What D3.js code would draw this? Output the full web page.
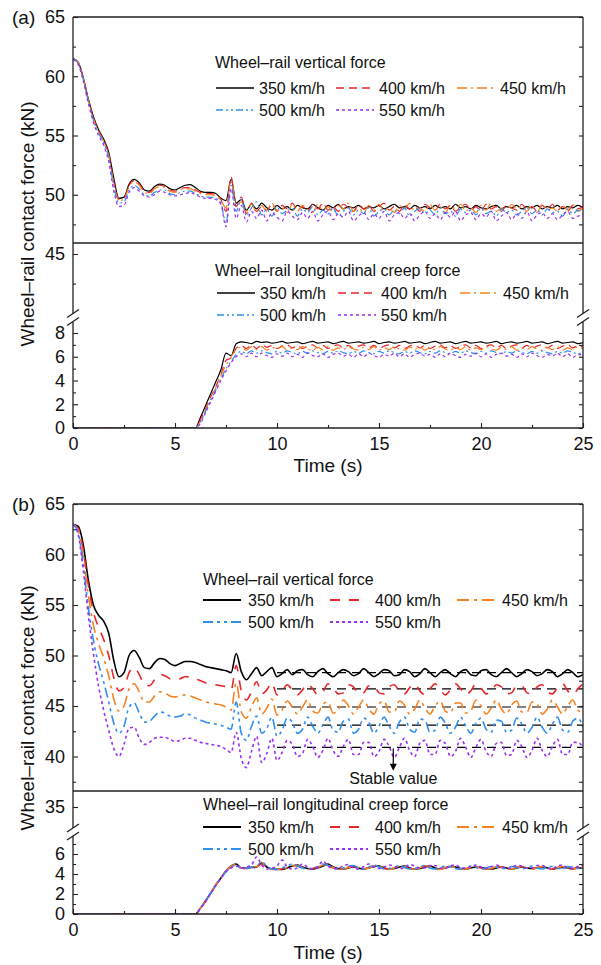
<!DOCTYPE html>
<html><head><meta charset="utf-8">
<script src="https://cdn.jsdelivr.net/npm/d3@7"></script>
<style>
html,body{margin:0;padding:0;background:#fff;}
svg{display:block;font-family:"Liberation Sans",Arial,sans-serif;}
</style></head><body>
<svg id="chart" width="601" height="965"></svg>
<script>
// ---------------- DATA ----------------
const timeStep = 0.25; // s between samples, t = 0 ... 25
const speeds = ["350 km/h","400 km/h","450 km/h","500 km/h","550 km/h"];
const colors = ["#000000","#e8262a","#f5821f","#2f8fee","#9b30f5"];
const xTicks = [0,5,10,15,20,25];
const xMinor = [2.5,7.5,12.5,17.5,22.5];
const aUpperTicks = [45,50,55,60,65], aUpperMinor = [42.5,47.5,52.5,57.5,62.5];
const aLowerTicks = [0,2,4,6,8], aLowerMinor = [1,3,5,7];
const bUpperTicks = [35,40,45,50,55,60,65], bUpperMinor = [37.5,42.5,47.5,52.5,57.5,62.5];
const bLowerTicks = [0,2,4,6], bLowerMinor = [1,3,5,7];
const titleVertical = "Wheel\u2013rail vertical force";
const titleCreep = "Wheel\u2013rail longitudinal creep force";
const stableValues = [48.3,46.7,44.9,43.1,40.9];
const stableStart = 10;

// (a) vertical force, kN
const aV350 = [
61.5,61.2,59.9,58.1, 56.6,55.5,54.7,53.6, 51.4,49.7,49.8,50.9, 51.3,51.0,50.4,50.3, 50.7,50.9,50.8,50.5,
50.4,50.6,50.8,50.85, 50.6,50.3,50.2,50.2, 50.1,49.7,49.5,51.3, 49.3,49.6,48.7,49.2, 48.8,49.3,48.9,48.7,
49.1,48.8,49.0,48.7, 49.1,48.9,48.8,49.2, 48.9,48.7,49.1,48.9, 49.2,48.8,49.0,48.9, 49.1,48.8,49.0,48.9,
49.1,48.8,49.0,49.2, 48.9,49.0,48.8,49.1, 48.9,49.0,48.8,49.1, 48.9,49.0,48.8,49.2, 48.9,49.0,48.8,49.1,
48.9,48.8,49.0,49.1, 48.8,49.0,48.9,49.1, 48.8,49.0,48.9,49.1, 48.8,49.0,48.9,49.1, 48.8,49.0,48.9,49.1,
48.9];
const aV400 = [
61.5,61.2,59.9,58.0, 56.5,55.4,54.6,53.4, 51.1,49.6,49.7,50.8, 51.2,50.9,50.3,50.2, 50.6,50.8,50.7,50.4,
50.3,50.5,50.6,50.6, 50.4,50.2,50.1,50.1, 50.0,49.6,48.6,51.5, 49.0,49.8,48.4,49.3, 48.6,49.0,48.7,49.2,
48.6,49.1,48.8,49.3, 48.7,49.0,48.6,49.2, 48.8,49.3,48.7,49.0, 48.6,49.2,48.9,48.6, 49.2,48.8,49.1,48.6,
49.0,49.3,48.7,49.0, 48.6,49.2,48.8,49.0, 48.6,49.2,48.9,48.7, 49.2,48.8,49.1,48.6, 49.0,49.2,48.7,49.0,
48.6,49.2,48.8,49.0, 48.6,49.1,48.9,48.7, 49.2,48.8,49.0,48.6, 49.1,48.8,49.2,48.7, 49.0,48.6,49.1,48.8,
49.0];
const aV450 = [
61.5,61.2,59.8,58.0, 56.4,55.3,54.5,53.3, 50.9,49.5,49.6,50.7, 51.1,50.8,50.2,50.1, 50.5,50.7,50.6,50.3,
50.2,50.4,50.5,50.5, 50.3,50.1,50.0,50.0, 49.9,49.5,48.9,51.2, 49.3,49.4,48.6,49.2, 48.5,49.1,48.6,49.3,
48.7,48.9,48.5,49.2, 48.6,49.1,48.8,48.5, 49.2,48.7,49.0,48.5, 49.1,48.8,49.3,48.6, 48.9,48.5,49.1,48.7,
49.2,48.6,48.9,48.5, 49.1,48.8,49.3,48.6, 48.9,48.6,49.2,48.7, 49.0,48.5,49.1,48.8, 49.2,48.6,48.9,48.5,
49.1,48.7,49.3,48.6, 48.9,48.5,49.2,48.8, 49.0,48.6,49.1,48.5, 49.2,48.7,48.9,48.6, 49.1,48.7,49.2,48.6,
48.9];
const aV500 = [
61.5,61.1,59.8,57.9, 56.3,55.2,54.4,53.1, 50.7,49.3,49.4,50.4, 50.8,50.5,50.0,49.9, 50.2,50.4,50.4,50.1,
50.0,50.2,50.3,50.3, 50.1,49.9,49.8,49.8, 49.7,49.3,47.6,50.8, 48.6,49.6,48.2,48.9, 49.4,48.3,48.8,48.2,
49.0,48.4,48.7,48.9, 48.2,48.8,48.5,49.0, 48.3,48.7,48.4,48.9, 48.2,48.6,48.9,48.3, 48.7,48.4,48.9,48.2,
48.6,48.8,48.3,48.7, 48.4,48.9,48.2,48.6, 48.8,48.4,48.7,48.3, 48.9,48.4,48.6,48.2, 48.8,48.5,48.7,48.3,
48.9,48.4,48.6,48.2, 48.8,48.5,48.7,48.3, 48.6,48.9,48.4,48.7, 48.3,48.8,48.5,48.6, 48.2,48.8,48.4,48.7,
48.4];
const aV550 = [
61.4,61.0,59.6,57.7, 56.1,55.0,54.2,52.8, 50.3,49.0,49.1,50.2, 50.6,50.3,49.9,49.8, 50.0,50.3,50.2,50.0,
49.9,50.0,50.1,50.2, 50.0,49.8,49.7,49.7, 49.6,49.2,47.3,50.5, 48.0,49.1,47.7,48.6, 48.0,48.7,47.8,48.5,
48.1,47.8,48.6,48.2, 47.9,48.5,48.0,48.6, 47.8,48.3,48.6,47.9, 48.4,48.1,48.6,47.8, 48.2,48.5,47.9,48.4,
48.0,48.6,47.8,48.3, 48.5,48.0,48.4,47.8, 48.3,48.6,48.0,48.4, 47.9,48.5,48.1,48.6, 47.8,48.3,48.5,47.9,
48.4,48.1,48.6,47.8, 48.2,48.5,47.9,48.4, 48.0,48.6,47.8,48.3, 48.5,48.0,48.4,47.9, 48.3,48.6,48.0,48.2,
48.3];

// (a) longitudinal creep force, kN
const aC350 = [
0,0,0,0, 0,0,0,0, 0,0,0,0, 0,0,0,0, 0,0,0,0,
0,0,0,0, 0,0.9,1.9,2.9, 3.9,4.9,6.3,6.1, 7.1,7.25,7.2,7.1, 7.3,7.2,7.25,7.15,
7.2,7.3,7.15,7.2, 7.25,7.1,7.2,7.3, 7.15,7.2,7.25,7.1, 7.2,7.3,7.15,7.2, 7.25,7.15,7.2,7.3,
7.1,7.2,7.25,7.15, 7.2,7.3,7.15,7.2, 7.25,7.1,7.2,7.3, 7.15,7.2,7.25,7.1, 7.2,7.3,7.15,7.2,
7.25,7.15,7.2,7.3, 7.1,7.2,7.25,7.15, 7.2,7.3,7.15,7.2, 7.25,7.1,7.2,7.3, 7.15,7.2,7.25,7.1,
7.2];
const aC400 = [
0,0,0,0, 0,0,0,0, 0,0,0,0, 0,0,0,0, 0,0,0,0,
0,0,0,0, 0,0.7,1.6,2.6, 3.5,4.5,5.7,5.9, 6.7,6.95,6.7,7.0, 6.7,7.0,6.8,6.95,
6.7,6.9,7.0,6.75, 6.95,6.7,6.9,7.0, 6.75,6.95,6.7,6.9, 7.0,6.75,6.95,6.7, 6.9,7.0,6.75,6.95,
6.7,6.9,7.0,6.75, 6.95,6.7,6.9,7.0, 6.75,6.95,6.7,6.9, 7.0,6.75,6.95,6.7, 6.9,7.0,6.75,6.95,
6.7,6.9,7.0,6.75, 6.95,6.7,6.9,7.0, 6.75,6.95,6.7,6.9, 7.0,6.75,6.95,6.7, 6.9,7.0,6.75,6.95,
6.8];
const aC450 = [
0,0,0,0, 0,0,0,0, 0,0,0,0, 0,0,0,0, 0,0,0,0,
0,0,0,0, 0,0.6,1.5,2.5, 3.4,4.4,5.3,6.0, 6.6,6.8,6.55,6.85, 6.6,6.85,6.55,6.8,
6.65,6.85,6.55,6.75, 6.6,6.85,6.65,6.55, 6.8,6.6,6.85,6.55, 6.75,6.6,6.85,6.65, 6.55,6.8,6.6,6.85,
6.55,6.75,6.6,6.85, 6.65,6.55,6.8,6.6, 6.85,6.55,6.75,6.6, 6.85,6.65,6.55,6.8, 6.6,6.85,6.55,6.75,
6.6,6.85,6.65,6.55, 6.8,6.6,6.85,6.55, 6.75,6.6,6.85,6.65, 6.55,6.8,6.6,6.85, 6.55,6.75,6.6,6.85,
6.65];
const aC500 = [
0,0,0,0, 0,0,0,0, 0,0,0,0, 0,0,0,0, 0,0,0,0,
0,0,0,0, 0,0.5,1.4,2.3, 3.2,4.1,5.0,5.6, 6.2,6.45,6.25,6.5, 6.3,6.5,6.35,6.25,
6.45,6.3,6.5,6.35, 6.25,6.45,6.3,6.5, 6.35,6.25,6.45,6.3, 6.5,6.35,6.25,6.45, 6.3,6.5,6.35,6.25,
6.45,6.3,6.5,6.35, 6.25,6.45,6.3,6.5, 6.35,6.25,6.45,6.3, 6.5,6.35,6.25,6.45, 6.3,6.5,6.35,6.25,
6.45,6.3,6.5,6.35, 6.25,6.45,6.3,6.5, 6.35,6.25,6.45,6.3, 6.5,6.35,6.25,6.45, 6.3,6.5,6.35,6.25,
6.4];
const aC550 = [
0,0,0,0, 0,0,0,0, 0,0,0,0, 0,0,0,0, 0,0,0,0,
0,0,0,0, 0,0.4,1.3,2.2, 3.1,4.0,4.8,5.5, 6.0,6.25,6.0,6.3, 6.0,6.3,6.1,5.95,
6.25,6.05,6.3,6.0, 6.2,5.95,6.3,6.1, 6.0,6.25,5.95,6.2, 6.3,6.05,6.2,5.95, 6.25,6.0,6.3,6.1,
5.95,6.2,6.05,6.3, 6.0,6.25,5.95,6.2, 6.3,6.05,6.2,5.95, 6.25,6.0,6.3,6.1, 5.95,6.2,6.05,6.3,
6.0,6.25,5.95,6.2, 6.3,6.05,6.2,5.95, 6.25,6.0,6.3,6.1, 5.95,6.2,6.05,6.3, 6.0,6.25,5.95,6.2,
6.1];

// (b) vertical force, kN
const bV350 = [
63.0,62.8,61.0,57.5, 55.0,54.0,53.4,52.2, 49.5,47.9,48.3,50.0, 50.5,49.8,48.8,48.7, 49.3,49.7,49.6,49.2,
49.0,49.2,49.4,49.4, 49.3,49.1,48.9,48.8, 48.7,48.6,48.5,48.3, 50.2,48.4,47.6,48.2, 48.8,48.0,48.4,48.8,
47.9,48.2,48.6,48.1, 48.5,48.6,48.1,47.9, 48.4,48.7,48.2,47.9, 48.3,48.6,48.4,48.0, 48.2,48.7,48.3,47.9,
48.2,48.6,48.5,48.0, 48.1,48.6,48.4,47.9, 48.2,48.7,48.3,47.9, 48.3,48.6,48.2,47.9, 48.4,48.6,48.1,48.0,
48.5,48.6,48.1,47.9, 48.3,48.7,48.3,47.9, 48.2,48.6,48.4,48.0, 48.2,48.6,48.4,47.9, 48.2,48.6,48.3,47.9,
48.1];
const bV400 = [
63.0,62.6,60.5,57.0, 54.3,52.8,51.6,50.0, 47.8,46.5,46.8,48.3, 48.8,48.1,47.1,47.0, 47.6,48.1,48.0,47.7,
47.6,47.7,47.9,47.9, 47.7,47.5,47.3,47.2, 47.1,47.0,46.9,46.6, 49.0,46.5,45.6,46.4, 47.4,46.2,46.6,47.3,
46.1,46.5,47.1,46.6, 46.1,46.6,47.2,46.7, 46.1,46.4,47.2,46.8, 46.2,46.3,47.1,46.9, 46.2,46.3,47.0,47.0,
46.3,46.2,46.9,47.1, 46.4,46.2,46.8,47.2, 46.5,46.1,46.7,47.2, 46.6,46.1,46.6,47.2, 46.7,46.1,46.5,47.2,
46.8,46.2,46.4,47.1, 46.9,46.2,46.3,47.0, 47.0,46.3,46.2,46.9, 47.1,46.4,46.2,46.8, 47.2,46.5,46.1,46.7,
47.2];
const bV450 = [
63.0,62.4,59.8,56.0, 53.0,51.2,49.8,48.0, 45.7,44.5,45.0,46.7, 47.2,46.4,45.4,45.4, 46.0,46.4,46.3,46.0,
45.9,46.0,46.1,46.0, 45.8,45.6,45.4,45.3, 45.2,45.1,44.9,44.6, 47.3,44.4,43.8,44.9, 45.8,44.2,44.8,45.7,
44.1,44.6,45.5,44.9, 44.2,44.9,45.6,44.5, 44.3,45.2,45.4,44.3, 44.6,45.6,45.0,44.2, 44.9,45.6,44.7,44.2,
45.2,45.5,44.4,44.4, 45.5,45.1,44.2,44.7, 45.6,44.8,44.2,45.0, 45.5,44.5,44.3,45.3, 45.3,44.3,44.5,45.6,
45.0,44.2,44.8,45.6, 44.7,44.2,45.1,45.5, 44.4,44.4,45.4,45.2, 44.2,44.7,45.6,44.9, 44.2,45.0,45.6,44.6,
44.3];
const bV500 = [
63.0,62.2,59.0,54.8, 51.5,49.2,47.4,45.4, 43.3,42.3,43.0,44.9, 45.3,44.3,43.4,43.5, 44.0,44.4,44.3,44.0,
43.9,44.0,44.2,44.1, 43.8,43.6,43.4,43.3, 43.2,43.1,42.9,42.7, 45.4,42.3,41.6,43.0, 44.0,42.3,42.8,43.9,
42.0,42.6,43.8,43.4, 42.3,42.7,43.9,43.0, 42.3,43.1,43.9,42.6, 42.4,43.5,43.7,42.3, 42.7,43.8,43.4,42.3,
43.0,43.9,43.0,42.3, 43.4,43.9,42.7,42.4, 43.7,43.6,42.4,42.6, 43.9,43.3,42.3,42.9, 43.9,43.0,42.3,43.3,
43.8,42.7,42.4,43.6, 43.5,42.4,42.6,43.8, 43.2,42.3,42.9,43.9, 42.9,42.3,43.2,43.9, 42.6,42.4,43.5,43.8,
42.9];
const bV550 = [
63.0,62.0,58.5,54.0, 50.2,47.0,44.6,42.6, 40.8,40.0,41.2,42.8, 42.9,41.8,41.2,41.4, 41.8,41.9,41.9,41.7,
41.5,41.6,41.8,41.8, 41.6,41.4,41.3,41.2, 41.1,41.0,40.7,40.4, 42.4,39.8,38.9,40.5, 42.0,39.4,40.3,41.8,
39.6,40.4,41.6,41.2, 40.0,40.3,41.7,41.0, 39.9,40.6,41.8,40.6, 40.0,41.0,41.7,40.2, 40.2,41.4,41.4,40.0,
40.5,41.7,41.0,39.9, 40.9,41.8,40.6,40.0, 41.3,41.6,40.2,40.2, 41.6,41.3,40.0,40.5, 41.8,40.9,39.9,40.9,
41.7,40.5,40.0,41.3, 41.4,40.1,40.2,41.6, 41.0,39.9,40.6,41.8, 40.6,40.0,41.0,41.7, 40.2,40.2,41.4,41.4,
40.9];

// (b) longitudinal creep force, kN
const bC350 = [
0,0,0,0, 0,0,0,0, 0,0,0,0, 0,0,0,0, 0,0,0,0,
0,0,0,0, 0,0.6,1.3,2.1, 2.9,3.6,4.3,4.8, 5.0,4.6,4.6,4.65, 4.7,5.1,4.7,4.5,
4.5,4.45,4.6,4.8, 4.9,4.7,4.55,4.5, 4.6,4.8,5.0,4.7, 4.55,4.5,4.6,4.7, 4.6,4.5,4.6,4.75,
4.8,4.6,4.5,4.55, 4.7,4.8,4.6,4.5, 4.55,4.7,4.8,4.6, 4.5,4.6,4.75,4.7, 4.55,4.5,4.6,4.7,
4.65,4.55,4.5,4.6, 4.7,4.6,4.5,4.6, 4.7,4.6,4.55,4.6, 4.7,4.6,4.5,4.6, 4.65,4.6,4.55,4.6,
4.6];
const bC400 = [
0,0,0,0, 0,0,0,0, 0,0,0,0, 0,0,0,0, 0,0,0,0,
0,0,0,0, 0,0.55,1.3,2.1, 2.9,3.6,4.3,4.7, 4.9,4.6,4.55,4.6, 4.7,5.0,4.75,4.5,
4.45,4.5,4.7,4.85, 4.8,4.6,4.5,4.55, 4.7,4.85,4.9,4.6, 4.5,4.55,4.7,4.75, 4.6,4.5,4.65,4.8,
4.75,4.55,4.5,4.6, 4.75,4.7,4.55,4.5, 4.65,4.8,4.7,4.55, 4.5,4.65,4.75,4.6, 4.5,4.55,4.7,4.7,
4.6,4.5,4.6,4.7, 4.65,4.55,4.55,4.7, 4.7,4.55,4.5,4.65, 4.75,4.6,4.5,4.65, 4.7,4.55,4.5,4.65,
4.7];
const bC450 = [
0,0,0,0, 0,0,0,0, 0,0,0,0, 0,0,0,0, 0,0,0,0,
0,0,0,0, 0,0.6,1.35,2.15, 2.95,3.65,4.35,4.8, 4.95,4.55,4.6,4.7, 4.75,5.15,4.7,4.45,
4.5,4.5,4.65,4.85, 4.85,4.65,4.5,4.5, 4.65,4.9,4.95,4.65, 4.5,4.5,4.65,4.8, 4.65,4.5,4.6,4.8,
4.8,4.55,4.45,4.6, 4.8,4.75,4.55,4.5, 4.6,4.8,4.75,4.55, 4.45,4.65,4.8,4.65, 4.5,4.5,4.65,4.75,
4.6,4.5,4.55,4.7, 4.7,4.55,4.5,4.65, 4.75,4.6,4.5,4.6, 4.75,4.6,4.5,4.65, 4.75,4.6,4.5,4.6,
4.7];
const bC500 = [
0,0,0,0, 0,0,0,0, 0,0,0,0, 0,0,0,0, 0,0,0,0,
0,0,0,0, 0,0.6,1.3,2.1, 2.9,3.6,4.25,4.7, 4.85,4.6,4.6,4.7, 4.8,5.2,4.8,4.5,
4.45,4.6,4.8,5.0, 4.8,4.6,4.5,4.6, 4.75,5.0,4.85,4.6, 4.5,4.6,4.8,4.85, 4.6,4.5,4.7,4.9,
4.7,4.5,4.55,4.7, 4.85,4.65,4.5,4.55, 4.75,4.85,4.6,4.5, 4.6,4.8,4.75,4.55, 4.5,4.65,4.8,4.65,
4.5,4.6,4.75,4.7, 4.55,4.6,4.75,4.65, 4.5,4.65,4.8,4.6, 4.5,4.7,4.75,4.55, 4.55,4.75,4.7,4.55,
4.65];
const bC550 = [
0,0,0,0, 0,0,0,0, 0,0,0,0, 0,0,0,0, 0,0,0,0,
0,0,0,0, 0,0.55,1.25,2.05, 2.85,3.55,4.2,4.6, 4.8,4.6,4.7,4.9, 5.7,4.9,4.5,4.6,
4.8,5.4,4.7,4.5, 4.6,5.0,4.7,4.5, 4.7,5.3,4.8,4.55, 4.6,4.8,4.95,4.6, 4.5,4.75,5.0,4.7,
4.55,4.7,4.9,4.75, 4.55,4.6,4.95,4.8, 4.6,4.6,4.85,4.85, 4.6,4.55,4.8,4.9, 4.65,4.55,4.75,4.9,
4.7,4.55,4.7,4.9, 4.75,4.55,4.65,4.85, 4.8,4.6,4.6,4.85, 4.85,4.6,4.55,4.8, 4.9,4.6,4.55,4.75,
4.85];

// ---------------- DRAWING ----------------
const allSeries = {aV350,aV400,aV450,aV500,aV550,aC350,aC400,aC450,aC500,aC550,
  bV350,bV400,bV450,bV500,bV550,bC350,bC400,bC450,bC500,bC550};
for (const k in allSeries) if (allSeries[k].length !== 101) throw new Error(k + " length " + allSeries[k].length);

const svg = d3.select("#chart");
const X0 = 73, X1 = 583;
const x = d3.scaleLinear().domain([0,25]).range([X0,X1]);
const defs = svg.append("defs");
const AX = "#222";
const intFmt = d3.format("d");

const panels = [
  { id:"a", tag:"(a)", top:17, bottom:428, breakHi:313.5, breakLo:321.5, dividerY:243,
    uDom:[45,65], uRange:[254,17], lDom:[0,8], lRange:[428,333],
    uTicks:aUpperTicks, uMinor:aUpperMinor, lTicks:aLowerTicks, lMinor:aLowerMinor,
    vert:[aV350,aV400,aV450,aV500,aV550], creep:[aC350,aC400,aC450,aC500,aC550],
    lw:1.2, dashes:["none","8,5","10,4,2,4","7,3,2,3,2,3","3,3"],
    legV:{tx:215, ty:68, rows:[88,110], cols:[216,336,457], off:43},
    legC:{tx:215, ty:276, rows:[293,315], cols:[217,338,460], off:43},
    labelCenter:224, xLabelY:472, stable:false },
  { id:"b", tag:"(b)", top:504, bottom:914, breakHi:828, breakLo:836, dividerY:791,
    uDom:[35,65], uRange:[807,504], lDom:[0,6], lRange:[914,854],
    uTicks:bUpperTicks, uMinor:bUpperMinor, lTicks:bLowerTicks, lMinor:bLowerMinor,
    vert:[bV350,bV400,bV450,bV500,bV550], creep:[bC350,bC400,bC450,bC500,bC550],
    lw:1.6, dashes:["none","10,9","12,5,3,5","10,4,3,4,3,4","3,3"],
    legV:{tx:203, ty:585, rows:[600,622], cols:[203,330,457], off:45},
    legC:{tx:203, ty:810, rows:[827,849], cols:[203,330,457], off:45},
    labelCenter:708, xLabelY:959, stable:true }
];

function styleAxis(sel){
  sel.select(".domain").remove();
  sel.attr("font-size",18).attr("font-family",null).attr("color",AX);
  sel.selectAll(".tick line").attr("stroke-width",1.1);
  sel.selectAll("text").attr("fill","#111");
}

panels.forEach(p => {
  const g = svg.append("g");
  const yU = d3.scaleLinear().domain(p.uDom).range(p.uRange);
  const yL = d3.scaleLinear().domain(p.lDom).range(p.lRange);

  defs.append("clipPath").attr("id","cu"+p.id).append("rect")
    .attr("x",X0).attr("y",p.top).attr("width",X1-X0).attr("height",p.breakHi-p.top);
  defs.append("clipPath").attr("id","cl"+p.id).append("rect")
    .attr("x",X0).attr("y",p.breakLo).attr("width",X1-X0).attr("height",p.bottom-p.breakLo);

  const lineU = d3.line().curve(d3.curveMonotoneX).x((d,i)=>x(i*timeStep)).y(d=>yU(d));
  const lineL = d3.line().curve(d3.curveMonotoneX).x((d,i)=>x(i*timeStep)).y(d=>yL(d));

  if (p.stable){
    const gs = g.append("g").attr("clip-path",`url(#cu${p.id})`);
    stableValues.forEach(v => {
      gs.append("line").attr("x1",x(stableStart)).attr("x2",x(25))
        .attr("y1",yU(v)).attr("y2",yU(v))
        .attr("stroke","#000").attr("stroke-width",1.2).attr("stroke-dasharray","9,6");
    });
  }

  const gu = g.append("g").attr("clip-path",`url(#cu${p.id})`);
  p.vert.forEach((s,i) => {
    gu.append("path").datum(s).attr("d",lineU).attr("fill","none")
      .attr("stroke",colors[i]).attr("stroke-width",p.lw)
      .attr("stroke-dasharray",p.dashes[i]).attr("stroke-linejoin","round");
  });
  const gl = g.append("g").attr("clip-path",`url(#cl${p.id})`);
  p.creep.forEach((s,i) => {
    gl.append("path").datum(s).attr("d",lineL).attr("fill","none")
      .attr("stroke",colors[i]).attr("stroke-width",p.lw)
      .attr("stroke-dasharray",p.dashes[i]).attr("stroke-linejoin","round");
  });

  // frame
  const fr = g.append("g").attr("stroke",AX).attr("stroke-width",1.3).attr("fill","none");
  fr.append("line").attr("x1",X0).attr("x2",X1).attr("y1",p.top).attr("y2",p.top);
  fr.append("line").attr("x1",X0).attr("x2",X1).attr("y1",p.bottom).attr("y2",p.bottom);
  fr.append("line").attr("x1",X0).attr("x2",X1).attr("y1",p.dividerY).attr("y2",p.dividerY);
  [X0,X1].forEach(xx => {
    fr.append("line").attr("x1",xx).attr("x2",xx).attr("y1",p.top).attr("y2",p.breakHi);
    fr.append("line").attr("x1",xx).attr("x2",xx).attr("y1",p.breakLo).attr("y2",p.bottom);
    [p.breakHi,p.breakLo].forEach(yy => {
      fr.append("line").attr("x1",xx-6).attr("y1",yy+4).attr("x2",xx+6).attr("y2",yy-4);
    });
  });

  // axes
  g.append("g").attr("transform",`translate(${X0},0)`)
    .call(d3.axisLeft(yU).tickValues(p.uTicks).tickFormat(intFmt).tickSize(-5).tickPadding(8)).call(styleAxis);
  g.append("g").attr("transform",`translate(${X0},0)`)
    .call(d3.axisLeft(yU).tickValues(p.uMinor).tickSize(-3).tickFormat("")).call(styleAxis);
  g.append("g").attr("transform",`translate(${X0},0)`)
    .call(d3.axisLeft(yL).tickValues(p.lTicks).tickFormat(intFmt).tickSize(-5).tickPadding(8)).call(styleAxis);
  g.append("g").attr("transform",`translate(${X0},0)`)
    .call(d3.axisLeft(yL).tickValues(p.lMinor).tickSize(-3).tickFormat("")).call(styleAxis);
  g.append("g").attr("transform",`translate(${X1},0)`)
    .call(d3.axisRight(yU).tickValues(p.uTicks.concat(p.uMinor)).tickSize(-4).tickFormat("")).call(styleAxis);
  g.append("g").attr("transform",`translate(${X1},0)`)
    .call(d3.axisRight(yL).tickValues(p.lTicks.concat(p.lMinor)).tickSize(-4).tickFormat("")).call(styleAxis);
  g.append("g").attr("transform",`translate(0,${p.bottom})`)
    .call(d3.axisBottom(x).tickValues(xTicks).tickFormat(intFmt).tickSize(-5).tickPadding(9)).call(styleAxis);
  g.append("g").attr("transform",`translate(0,${p.bottom})`)
    .call(d3.axisBottom(x).tickValues(xMinor).tickSize(-3).tickFormat("")).call(styleAxis);

  // labels
  g.append("text").attr("x",12).attr("y",p.top+6.5).attr("font-size",19).attr("fill","#111").text(p.tag);
  g.append("text").attr("transform",`translate(27,${p.labelCenter}) rotate(-90)`)
    .attr("text-anchor","middle").attr("dominant-baseline","central")
    .attr("font-size",19).attr("fill","#111").text("Wheel\u2013rail contact force (kN)");
  g.append("text").attr("x",x(12.5)).attr("y",p.xLabelY).attr("text-anchor","middle")
    .attr("font-size",19).attr("fill","#111").text("Time (s)");

  // legends
  function legend(L, title){
    const lg = g.append("g").attr("font-size",16).attr("fill","#111");
    lg.append("text").attr("x",L.tx).attr("y",L.ty).text(title);
    speeds.forEach((s,i) => {
      const r = i < 3 ? 0 : 1, c = i < 3 ? i : i-3;
      const lx = L.cols[c], ly = L.rows[r];
      lg.append("line").attr("x1",lx).attr("x2",lx+38).attr("y1",ly).attr("y2",ly)
        .attr("stroke",colors[i]).attr("stroke-width",p.lw+0.2).attr("stroke-dasharray",p.dashes[i]);
      lg.append("text").attr("x",lx+L.off).attr("y",ly+6).text(s);
    });
  }
  legend(p.legV, titleVertical);
  legend(p.legC, titleCreep);

  if (p.stable){
    const ax = x(15.7);
    const y1 = yU(stableValues[4]) + 1, y2 = yU(38.7);
    g.append("line").attr("x1",ax).attr("x2",ax).attr("y1",y1).attr("y2",y2-4)
      .attr("stroke","#000").attr("stroke-width",1.2);
    g.append("path").attr("d",`M${ax-3.5},${y2-6}L${ax+3.5},${y2-6}L${ax},${y2+1}Z`).attr("fill","#000");
    g.append("text").attr("x",ax).attr("y",y2+14.5).attr("text-anchor","middle")
      .attr("font-size",16).attr("fill","#111").text("Stable value");
  }
});
</script>
</body></html>
